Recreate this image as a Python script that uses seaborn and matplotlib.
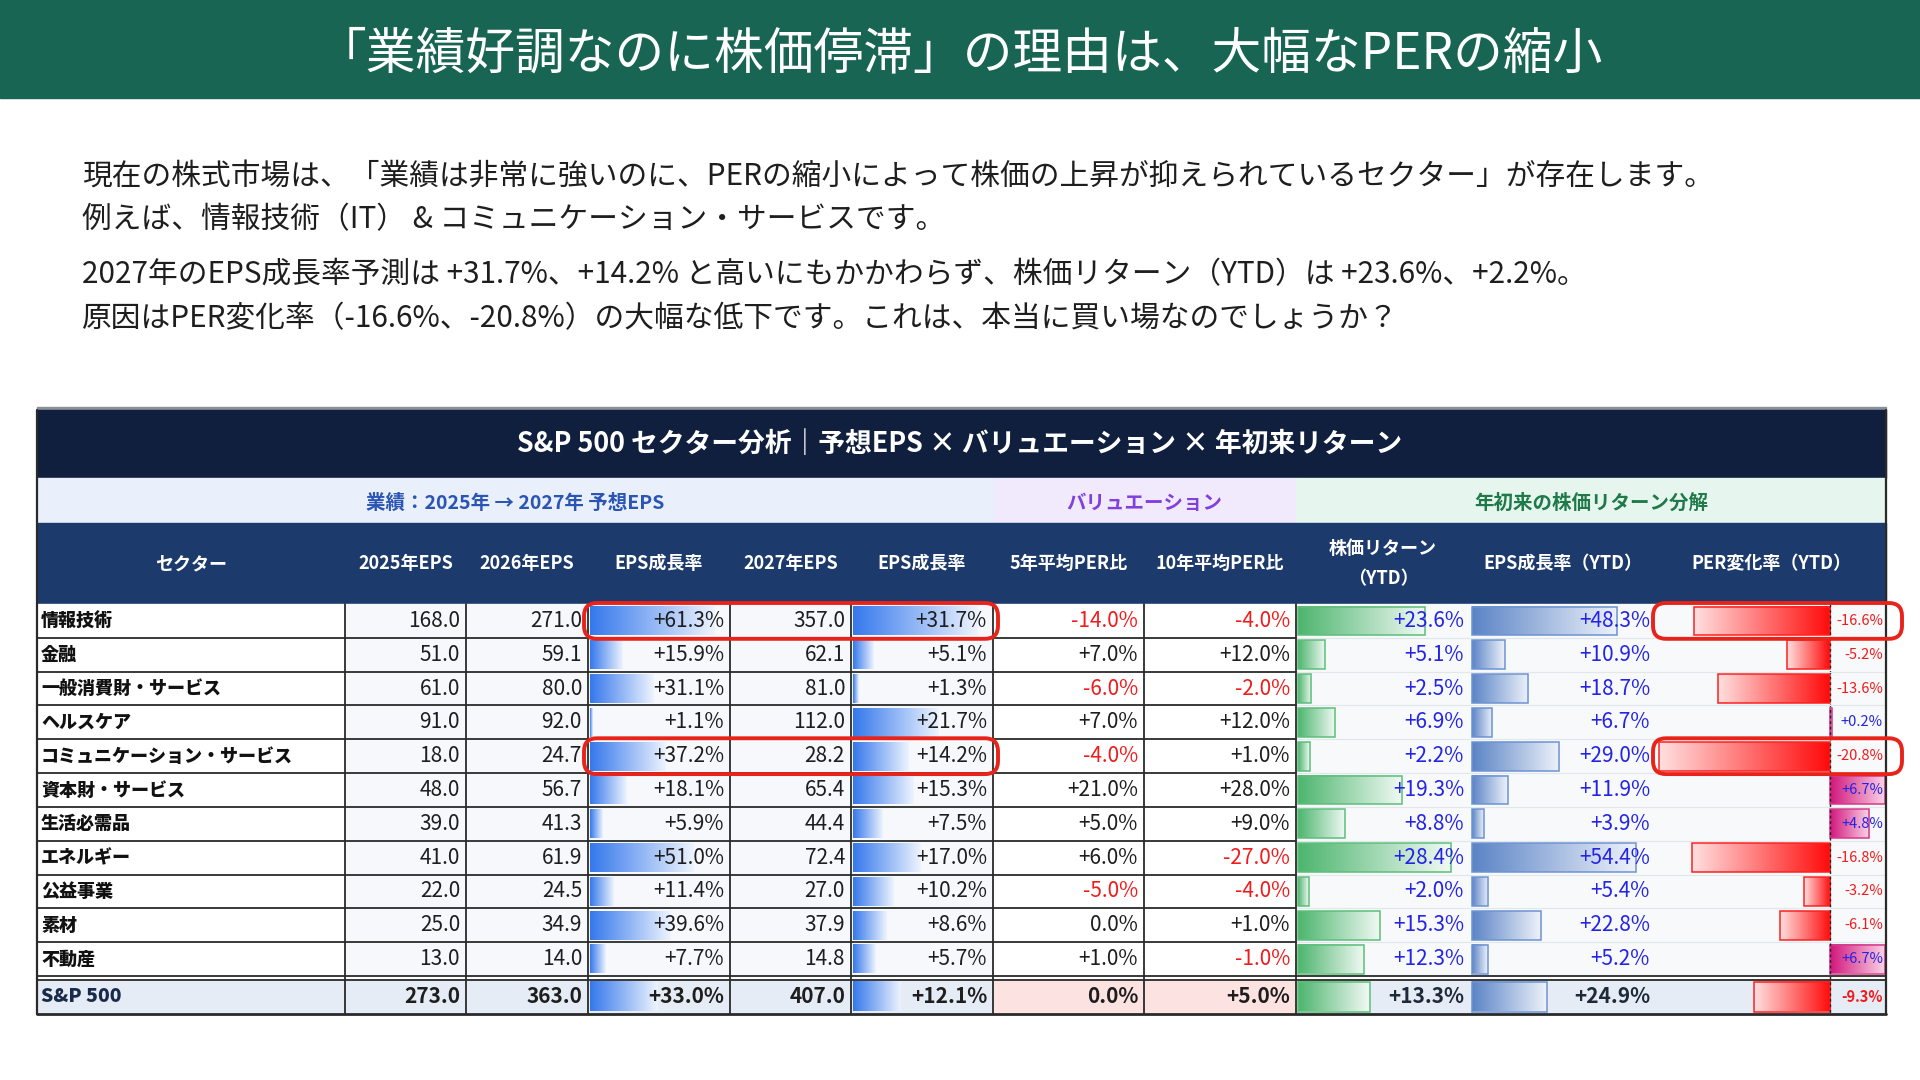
import numpy as np
import matplotlib.pyplot as plt
import seaborn as sns
from matplotlib.patches import Rectangle, FancyBboxPatch

# ---- data ----
sectors = ['情報技術', '金融', '一般消費財・サービス', 'ヘルスケア', 'コミュニケーション・サービス',
           '資本財・サービス', '生活必需品', 'エネルギー', '公益事業', '素材', '不動産', 'S&P 500']
eps_2025 = [168.0, 51.0, 61.0, 91.0, 18.0, 48.0, 39.0, 41.0, 22.0, 25.0, 13.0, 273.0]
eps_2026 = [271.0, 59.1, 80.0, 92.0, 24.7, 56.7, 41.3, 61.9, 24.5, 34.9, 14.0, 363.0]
growth_26 = [61.3, 15.9, 31.1, 1.1, 37.2, 18.1, 5.9, 51.0, 11.4, 39.6, 7.7, 33.0]
eps_2027 = [357.0, 62.1, 81.0, 112.0, 28.2, 65.4, 44.4, 72.4, 27.0, 37.9, 14.8, 407.0]
growth_27 = [31.7, 5.1, 1.3, 21.7, 14.2, 15.3, 7.5, 17.0, 10.2, 8.6, 5.7, 12.1]
per_vs_5y = [-14.0, 7.0, -6.0, 7.0, -4.0, 21.0, 5.0, 6.0, -5.0, 0.0, 1.0, 0.0]
per_vs_10y = [-4.0, 12.0, -2.0, 12.0, 1.0, 28.0, 9.0, -27.0, -4.0, 1.0, -1.0, 5.0]
price_ytd = [23.6, 5.1, 2.5, 6.9, 2.2, 19.3, 8.8, 28.4, 2.0, 15.3, 12.3, 13.3]
eps_ytd = [48.3, 10.9, 18.7, 6.7, 29.0, 11.9, 3.9, 54.4, 5.4, 22.8, 5.2, 24.9]
per_chg_ytd = [-16.6, -5.2, -13.6, 0.2, -20.8, 6.7, 4.8, -16.8, -3.2, -6.1, 6.7, -9.3]
highlight = ['情報技術', 'コミュニケーション・サービス']

col_labels = ['セクター', '2025年EPS', '2026年EPS', 'EPS成長率', '2027年EPS', 'EPS成長率',
              '5年平均PER比', '10年平均PER比', '株価リターン\n（YTD）', 'EPS成長率（YTD）', 'PER変化率（YTD）']

title = '「業績好調なのに株価停滞」の理由は、大幅なPERの縮小'
paragraph = [
    '現在の株式市場は、「業績は非常に強いのに、PERの縮小によって株価の上昇が抑えられているセクター」が存在します。',
    '例えば、情報技術（IT） & コミュニケーション・サービスです。',
    '2027年のEPS成長率予測は +31.7%、+14.2% と高いにもかかわらず、株価リターン（YTD）は +23.6%、+2.2%。',
    '原因はPER変化率（-16.6%、-20.8%）の大幅な低下です。これは、本当に買い場なのでしょうか？',
]

# ---- layout (pixels) ----
edges = [37, 345, 466, 588, 730, 851, 993, 1144, 1296, 1470, 1656, 1886]
T_TOP, T_TITLE_B, T_GROUP_B, T_HEAD_B = 410, 478, 523, 604
ROW_H = (976 - 604) / 11
SP_TOP, SP_BOT = 979.5, 1014

sns.set_theme(style='white')
plt.rcParams['font.family'] = ['Noto Sans CJK JP', 'DejaVu Sans']

fig = plt.figure(figsize=(19.2, 10.8), dpi=100)
ax = fig.add_axes([0, 0, 1, 1])

DARK = '#1e1e1e'
RED_TXT = '#f01c1c'
BLUE_TXT = '#2424e6'


def row_span(i):
    if i < 11:
        return T_HEAD_B + i * ROW_H, T_HEAD_B + (i + 1) * ROW_H
    return SP_TOP, SP_BOT


def grad_bar(x0, x1, y0, y1, c_left, c_right, edge=None):
    cmap = sns.blend_palette([c_left, c_right], as_cmap=True)
    ax.imshow(np.linspace(0, 1, 256)[None, :], cmap=cmap, aspect='auto',
              extent=[x0, x1, y1, y0], interpolation='bilinear', zorder=2)
    if edge:
        ax.add_patch(Rectangle((x0, y0), x1 - x0, y1 - y0, fill=False, ec=edge, lw=1.1, zorder=3))


def pct(v):
    return '0.0%' if v == 0 else f'{v:+.1f}%'


# top banner
ax.add_patch(Rectangle((0, 0), 1920, 98, color='#186553', zorder=1))
ax.text(960, 54, title, color='white', fontsize=35.8, ha='center', va='center', zorder=2)
for y, line in zip([176, 220, 275, 319], paragraph):
    ax.text(82, y, line, color=DARK, fontsize=21.4, ha='left', va='center')

# table bands
W = edges[-1] - edges[0]
ax.add_patch(Rectangle((edges[0], T_TOP - 3), W, 3, color='#8a8f98', zorder=1))
ax.add_patch(Rectangle((edges[0], T_TOP), W, T_TITLE_B - T_TOP, color='#0f1f3d', zorder=1))
ax.text(960, (T_TOP + T_TITLE_B) / 2, 'S&P 500 セクター分析｜予想EPS × バリュエーション × 年初来リターン',
        color='white', fontsize=19.3, fontweight='bold', ha='center', va='center', zorder=2)

groups = [(edges[0], edges[6], '#e9effb', '#2a55b5', '業績：2025年 → 2027年 予想EPS'),
          (edges[6], edges[8], '#f1eafc', '#8040e0', 'バリュエーション'),
          (edges[8], edges[-1], '#e7f5ef', '#1f7a4a', '年初来の株価リターン分解')]
for x0, x1, bg, fg, label in groups:
    ax.add_patch(Rectangle((x0, T_TITLE_B), x1 - x0, T_GROUP_B - T_TITLE_B, color=bg, zorder=1))
    ax.text((x0 + x1) / 2, (T_TITLE_B + T_GROUP_B) / 2 + 3, label, color=fg, fontsize=14,
            fontweight='bold', ha='center', va='center', zorder=2)

ax.add_patch(Rectangle((edges[0], T_GROUP_B), W, T_HEAD_B - T_GROUP_B, color='#1d3a6c', zorder=1))
for j, label in enumerate(col_labels):
    ax.text((edges[j] + edges[j + 1]) / 2, (T_GROUP_B + T_HEAD_B) / 2, label, color='white',
            fontsize=13, fontweight='bold', ha='center', va='center', linespacing=1.7, zorder=2)

# cell backgrounds
col_bg = ['white', '#f6f8fc', '#f6f8fc', '#f6f8fc', '#f6f8fc', '#f6f8fc', 'white', 'white',
          '#f7f9fa', '#f7f9fa', '#f7f9fa']
for i in range(12):
    y0, y1 = row_span(i)
    for j in range(11):
        if i == 11:
            bg = '#fde2e2' if j in (6, 7) else '#e6ecf5'
        else:
            bg = col_bg[j]
        ax.add_patch(Rectangle((edges[j], y0), edges[j + 1] - edges[j], y1 - y0, color=bg, zorder=1))

# bars
PAD = 2.5
bar_cols = [(3, growth_26, '#3578ec', '#eef4fe', None),
            (5, growth_27, '#3578ec', '#eef4fe', None),
            (8, price_ytd, '#4db56e', '#f2faf5', '#5cbf7a'),
            (9, eps_ytd, '#5b84c6', '#eef2fa', '#6c93d4')]
for j, vals, cl, cr, ec in bar_cols:
    left = edges[j] + 2
    scale = (edges[j + 1] - edges[j]) * 0.88 / max(vals)
    for i, v in enumerate(vals):
        y0, y1 = row_span(i)
        grad_bar(left, left + v * scale, y0 + PAD, y1 - PAD, cl, cr, ec)

lo, hi = min(per_chg_ytd), max(per_chg_ytd)
px0, px1 = edges[10] + 3, edges[11] - 1
per_x = lambda v: px0 + (v - lo) / (hi - lo) * (px1 - px0)
zero_x = per_x(0)
for i, v in enumerate(per_chg_ytd):
    y0, y1 = row_span(i)
    if v < 0:
        grad_bar(per_x(v), zero_x, y0 + PAD, y1 - PAD, '#ffe0e0', '#ff0a0a', '#ff2020')
    else:
        grad_bar(zero_x, per_x(v), y0 + PAD, y1 - PAD, '#d2167c', '#fbd6e8', '#d43a8a')
ax.plot([zero_x, zero_x], [T_HEAD_B, SP_BOT], color='#222', lw=1, ls=(0, (2, 2)), zorder=4)

# cell text
num_cols = [(1, eps_2025, 'eps'), (2, eps_2026, 'eps'), (3, growth_26, 'g'), (4, eps_2027, 'eps'),
            (5, growth_27, 'g'), (6, per_vs_5y, 'per'), (7, per_vs_10y, 'per'),
            (8, price_ytd, 'ytd'), (9, eps_ytd, 'ytd')]
for i, name in enumerate(sectors):
    y0, y1 = row_span(i)
    yc = (y0 + y1) / 2
    total = i == 11
    ax.text(edges[0] + 4, yc, name, fontsize=14 if total else 13, fontweight='heavy',
            color='#1a2a4a' if total else '#111', ha='left', va='center', zorder=5)
    for j, vals, kind in num_cols:
        v = vals[i]
        s = f'{v:.1f}' if kind == 'eps' else pct(v)
        color = DARK
        if kind == 'per' and v < 0:
            color = RED_TXT
        if kind == 'ytd':
            color = '#1e2a3a' if total else BLUE_TXT
        ax.text(edges[j + 1] - 6, yc, s, fontsize=15, color=color,
                fontweight='bold' if total else 'normal', ha='right', va='center', zorder=5)
    v = per_chg_ytd[i]
    ax.text(edges[11] - 3, yc, pct(v), fontsize=10.5, color=RED_TXT if v < 0 else BLUE_TXT,
            fontweight='bold' if total else 'normal', ha='right', va='center', zorder=5)

# grid lines
for i in range(1, 11):
    y = T_HEAD_B + i * ROW_H
    ax.plot([edges[0], edges[8]], [y, y], color='#2a2a2a', lw=1.3, zorder=4)
    ax.plot([edges[8], edges[11]], [y, y], color='#e3e7eb', lw=0.8, zorder=4)
for x in edges[:9]:
    ax.plot([x, x], [T_HEAD_B, SP_BOT], color='#2a2a2a', lw=1.3, zorder=4)
ax.plot([edges[11], edges[11]], [T_TOP, SP_BOT], color='#2a2a2a', lw=1.6, zorder=4)
ax.plot([edges[0], edges[0]], [T_TOP, SP_BOT], color='#2a2a2a', lw=1.6, zorder=4)
for y in (976, SP_TOP):
    ax.plot([edges[0], edges[11]], [y, y], color='#2a2a2a', lw=1.3, zorder=4)
ax.plot([edges[0], edges[11]], [SP_BOT, SP_BOT], color='#2a2a2a', lw=2, zorder=4)

# red highlight boxes
for name in highlight:
    y0, y1 = row_span(sectors.index(name))
    for x0, x1 in [(edges[3] - 4, edges[6] + 5), (edges[10] - 3, edges[11] + 16)]:
        ax.add_patch(FancyBboxPatch((x0, y0 - 1), x1 - x0, y1 - y0 + 2,
                                    boxstyle='round,pad=0,rounding_size=13',
                                    fc='none', ec='#e8231a', lw=2.8, zorder=6))

ax.set_xlim(0, 1920)
ax.set_ylim(1080, 0)
ax.axis('off')
fig.savefig('out.png', dpi=100)
